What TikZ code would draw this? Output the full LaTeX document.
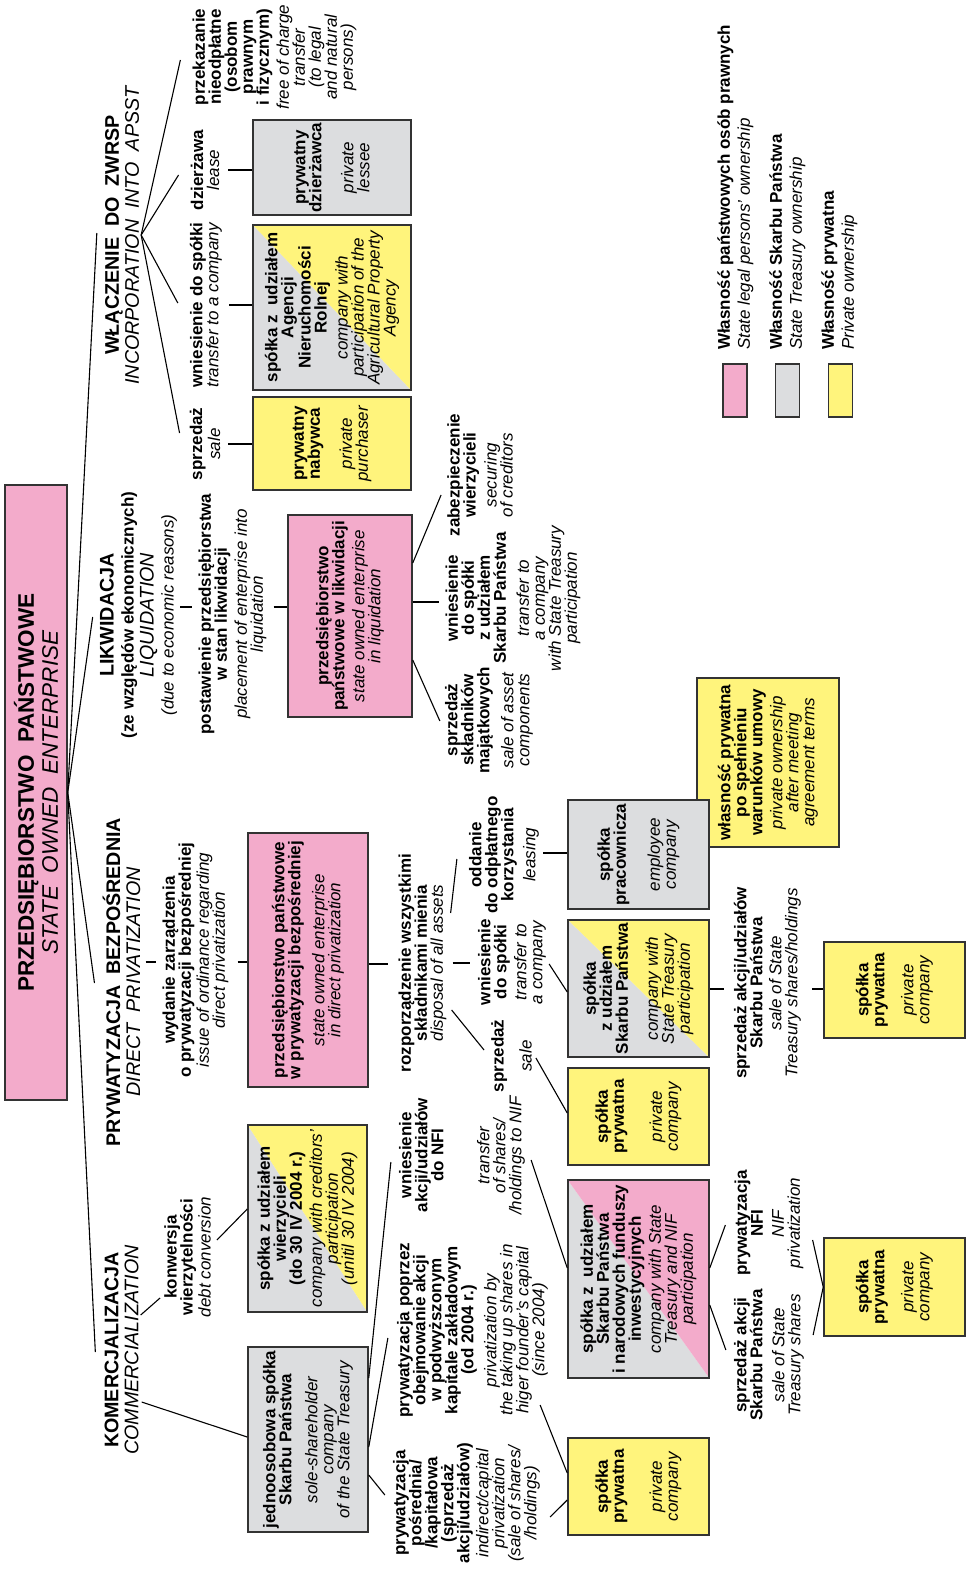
\documentclass[tikz,border=0pt]{standalone}
\usepackage{fontspec}
\setmainfont{Liberation Sans}
\usetikzlibrary{calc}
\pgfdeclarelayer{background}
\pgfsetlayers{background,main}
\definecolor{pinkc}{HTML}{F3ABCB}
\definecolor{yelc}{HTML}{FFF47C}
\definecolor{grayc}{HTML}{DCDDDF}
\definecolor{edgec}{HTML}{333333}
\newcommand\LB[1]{\textbf{#1}}
\newcommand\LI[1]{\textit{#1}}
\tikzset{
  txt/.style={rotate=90, align=center, inner sep=0pt, font=\fontsize{17}{16}\selectfont},
  head/.style={rotate=90, align=center, inner sep=0pt, font=\fontsize{19.7}{20}\selectfont},
  box/.style={rotate=90, align=center, inner sep=0pt, draw=edgec, line width=1.5pt, font=\fontsize{17}{16}\selectfont},
  legt/.style={rotate=90, align=left, anchor=west, inner sep=0pt, font=\fontsize{17}{20}\selectfont},
  conn/.style={line width=1.1pt, black},
}
\begin{document}
\begin{tikzpicture}[x=1pt,y=-1pt]
\begin{pgfonlayer}{background}
\fill[white] (0,0) rectangle (970,1569);
\end{pgfonlayer}
\useasboundingbox (0,0) rectangle (970,1569);

% title and headings
\node[box, fill=pinkc, minimum width=615pt, minimum height=62pt, font=\fontsize{22.5}{24}\selectfont] (title) at (36,792.5) {\LB{PRZEDSIĘBIORSTWO~~PAŃSTWOWE}\\\LI{STATE~~OWNED~~ENTERPRISE}};
\node[head] (hW) at (122,235) {\LB{WŁĄCZENIE~~DO~~ZWRSP}\\\LI{INCORPORATION~~INTO~~APSST}};
\node[head] (hL) at (138.5,615) {\LB{LIKWIDACJA}\\\LB{\fontsize{17}{20}\selectfont (ze względów ekonomicznych)}\\\LI{LIQUIDATION}\\\LI{\fontsize{17}{20}\selectfont (due to economic reasons)}};
\node[head] (hP) at (121.5,982) {\LB{PRYWATYZACJA~~BEZPOŚREDNIA}\\\LI{DIRECT~~PRIVATIZATION}};
\node[head] (hK) at (121.5,1350) {\LB{KOMERCJALIZACJA}\\\LI{COMMERCIALIZATION}};

% incorporation branch
\node[txt] (lW1) at (274.5,57) {\LB{przekazanie}\\\LB{nieodpłatne}\\\LB{(osobom}\\\LB{prawnym}\\\LB{i fizycznym)}\\[4pt]\LI{free of charge}\\\LI{transfer}\\\LI{(to legal}\\\LI{and natural}\\\LI{persons)}};
\node[txt] (lW2) at (205,170) {\LB{dzierżawa}\\\LI{lease}};
\node[txt] (lW3) at (206,305) {\LB{wniesienie do spółki}\\\LI{transfer to a company}};
\node[txt] (lW4) at (205,444) {\LB{sprzedaż}\\[2pt]\LI{sale}};
\node[box, fill=grayc, minimum width=95pt, minimum height=158pt] (bW2) at (332,167.5) {\LB{prywatny}\\\LB{dzierżawca}\\[16pt]\LI{private}\\\LI{lessee}};
\node[box, minimum width=165pt, minimum height=158pt] (bW3) at (332,307.5) {\LB{spółka z~~udziałem}\\\LB{Agencji}\\\LB{Nieruchomości}\\\LB{Rolnej}\\[5pt]\LI{company with}\\\LI{participation of the}\\\LI{Agricultural Property}\\\LI{Agency}};
\node[box, fill=yelc, minimum width=93pt, minimum height=158pt] (bW4) at (332,443.5) {\LB{prywatny}\\\LB{nabywca}\\[16pt]\LI{private}\\\LI{purchaser}};

% liquidation branch
\node[txt] (lL1) at (232.5,614) {\LB{postawienie przedsiębiorstwa}\\\LB{w stan likwidacji}\\[4pt]\LI{placement of enterprise into}\\\LI{liquidation}};
\node[box, fill=pinkc, minimum width=202pt, minimum height=124pt] (bL) at (350,616) {\LB{przedsiębiorstwo}\\\LB{państwowe w likwidacji}\\[4pt]\LI{state owned enterprise}\\\LI{in liquidation}};
\node[txt] (lL2) at (480,475) {\LB{zabezpieczenie}\\\LB{wierzycieli}\\[5pt]\LI{securing}\\\LI{of creditors}};
\node[txt] (lL3) at (513,598) {\LB{wniesienie}\\\LB{do spółki}\\\LB{z udziałem}\\\LB{Skarbu Państwa}\\[7pt]\LI{transfer to}\\\LI{a company}\\\LI{with State Treasury}\\\LI{participation}};
\node[txt] (lL4) at (489,720) {\LB{sprzedaż}\\\LB{składników}\\\LB{majątkowych}\\[8pt]\LI{sale of asset}\\\LI{components}};

% direct privatization branch
\node[txt] (lP1) at (195.5,960) {\LB{wydanie zarządzenia}\\\LB{o prywatyzacji bezpośredniej}\\[2pt]\LI{issue of ordinance regarding}\\\LI{direct privatization}};
\node[box, fill=pinkc, minimum width=254pt, minimum height=120pt] (bP) at (308,960) {\LB{przedsiębiorstwo państwowe}\\\LB{w prywatyzacji bezpośredniej}\\[8pt]\LI{state owned enterprise}\\\LI{in direct privatization}};
\node[txt] (lP2) at (422.5,963) {\LB{rozporządzenie wszystkimi}\\\LB{składnikami mienia}\\\LI{disposal of all assets}};
\node[txt] (lP3) at (504,855) {\LB{oddanie}\\\LB{do odpłatnego}\\\LB{korzystania}\\[6pt]\LI{leasing}};
\node[txt] (lP4) at (512,962) {\LB{wniesienie}\\\LB{do spółki}\\[4pt]\LI{transfer to}\\\LI{a company}};
\node[txt] (lP5) at (511.5,1056) {\LB{sprzedaż}\\[12pt]\LI{sale}};
\node[box, fill=yelc, minimum width=169pt, minimum height=142pt] (bP7) at (768,762.5) {\LB{własność prywatna}\\\LB{po spełnieniu}\\\LB{warunków umowy}\\[4pt]\LI{private ownership}\\\LI{after meeting}\\\LI{agreement terms}};
\node[box, fill=grayc, minimum width=109pt, minimum height=141pt] (bP4) at (638.5,854.5) {\LB{spółka}\\\LB{pracownicza}\\[18pt]\LI{employee}\\\LI{company}};
\node[box, minimum width=137pt, minimum height=141pt] (bP5) at (638.5,988.5) {\LB{spółka}\\\LB{z udziałem}\\\LB{Skarbu Państwa}\\[14pt]\LI{company with}\\\LI{State Treasury}\\\LI{participation}};
\node[box, fill=yelc, minimum width=97pt, minimum height=141pt] (bP6) at (638.5,1116.5) {\LB{spółka}\\\LB{prywatna}\\[22pt]\LI{private}\\\LI{company}};
\node[txt] (lP8) at (767.5,983) {\LB{sprzedaż akcji/udziałów}\\\LB{Skarbu Państwa}\\[3pt]\LI{sale of State}\\\LI{Treasury shares/holdings}};
\node[box, fill=yelc, minimum width=96pt, minimum height=141pt] (bP9) at (894.5,990) {\LB{spółka}\\\LB{prywatna}\\[13pt]\LI{private}\\\LI{company}};

% commercialization branch
\node[txt] (lK1) at (187.5,1257) {\LB{konwersja}\\\LB{wierzytelności}\\[2pt]\LI{debt conversion}};
\node[box, minimum width=187pt, minimum height=119pt] (bK1) at (307.5,1218.5) {\LB{spółka z udziałem}\\\LB{wierzycieli}\\\LB{(do 30 IV 2004 r.)}\\[4pt]\LI{company with creditors'}\\\LI{participation}\\\LI{(unitil 30 IV 2004)}};
\node[box, fill=grayc, minimum width=185pt, minimum height=120pt] (bK2) at (308,1439.5) {\LB{jednoosobowa spółka}\\\LB{Skarbu Państwa}\\[10pt]\LI{sole-shareholder}\\\LI{company}\\\LI{of the State Treasury}};
\node[txt] (lK2) at (462,1155) {\LB{wniesienie}\\\LB{akcji/udziałów}\\\LB{do NFI}\\[30pt]\LI{transfer}\\\LI{of shares/}\\\LI{/holdings to NIF}};
\node[txt] (lK3) at (472.5,1330) {\LB{prywatyzacja poprzez}\\\LB{obejmowanie akcji}\\\LB{w podwyższonym}\\\LB{kapitale zakładowym}\\\LB{(od 2004 r.)}\\[7pt]\LI{privatization by}\\\LI{the taking up shares in}\\\LI{higer founder's capital}\\\LI{(since 2004)}};
\node[txt] (lK4) at (466.5,1503) {\LB{prywatyzacja}\\\LB{pośrednia/}\\\LB{/kapitałowa}\\\LB{(sprzedaż}\\\LB{akcji/udziałów)}\\[3pt]\LI{indirect/capital}\\\LI{privatization}\\\LI{(sale of shares/}\\\LI{/holdings)}};
\node[box, minimum width=198pt, minimum height=141pt] (bK3) at (638.5,1279) {\LB{spółka z~~udziałem}\\\LB{Skarbu Państwa}\\\LB{i narodowych funduszy}\\\LB{inwestycyjnych}\\[4pt]\LI{company with State}\\\LI{Treasury and NIF}\\\LI{participation}};
\node[txt] (lK5) at (769,1223) {\LB{prywatyzacja}\\\LB{NFI}\\[5pt]\LI{NIF}\\\LI{privatization}};
\node[txt] (lK6) at (769,1355) {\LB{sprzedaż akcji}\\\LB{Skarbu Państwa}\\[6pt]\LI{sale of State}\\\LI{Treasury shares}};
\node[box, fill=yelc, minimum width=98pt, minimum height=141pt] (bK6) at (894.5,1287) {\LB{spółka}\\\LB{prywatna}\\[13pt]\LI{private}\\\LI{company}};
\node[box, fill=yelc, minimum width=97pt, minimum height=141pt] (bK5) at (638.5,1486.5) {\LB{spółka}\\\LB{prywatna}\\[22pt]\LI{private}\\\LI{company}};

% legend
\node[box, fill=pinkc, minimum width=53pt, minimum height=24pt] (lg1) at (735,390.5) {};
\node[box, fill=grayc, minimum width=53pt, minimum height=24pt] (lg2) at (787.5,390.5) {};
\node[box, fill=yelc, minimum width=53pt, minimum height=24pt] (lg3) at (840.5,390.5) {};
\node[legt] (lgt1) at (735.5,350) {\LB{Własność państwowych osób prawnych}\\\LI{State legal persons' ownership}};
\node[legt] (lgt2) at (787.5,350) {\LB{Własność Skarbu Państwa}\\\LI{State Treasury ownership}};
\node[legt] (lgt3) at (839.5,350) {\LB{Własność prywatna}\\\LI{Private ownership}};

% split fills
\begin{pgfonlayer}{background}
\fill[grayc] (bW3.north east) -- (bW3.north west) -- (bW3.south west) -- cycle;
\fill[yelc] (bW3.north east) -- (bW3.south east) -- (bW3.south west) -- cycle;
\fill[grayc] (bP5.north east) -- (bP5.north west) -- (bP5.south west) -- cycle;
\fill[yelc] (bP5.north east) -- (bP5.south east) -- (bP5.south west) -- cycle;
\fill[grayc] (bK1.north east) -- (bK1.north west) -- (bK1.south west) -- cycle;
\fill[yelc] (bK1.north east) -- (bK1.south east) -- (bK1.south west) -- cycle;
\fill[grayc] (bK3.north east) -- (bK3.north west) -- (bK3.south west) -- cycle;
\fill[pinkc] (bK3.north east) -- (bK3.south east) -- (bK3.south west) -- cycle;
\end{pgfonlayer}

% connectors: title to branches
\draw[conn] (title.south) -- ($(hW.north)+(-8,-2)$);
\draw[conn] (title.south) -- ($(hL.north)+(-7,2)$);
\draw[conn] (title.south) -- ($(hP.north)+(-8,1)$);
\draw[conn] (title.south) -- ($(hK.north)+(-9,2)$);

% incorporation
\coordinate (hubW) at ($(hW.south)+(2,0)$);
\draw[conn] (hubW) -- ($(lW1.north)+(-12,3)$);
\draw[conn] (hubW) -- ($(lW2.north)+(-12,5)$);
\draw[conn] (hubW) -- ($(lW3.north)+(-12,-2)$);
\draw[conn] (hubW) -- ($(lW4.north)+(-10,-11)$);
\draw[conn,shorten <=9pt] (lW2.south) -- (lW2.south -| bW2.north);
\draw[conn,shorten <=7pt] (lW3.south) -- (lW3.south -| bW3.north);
\draw[conn,shorten <=8pt] (lW4.south) -- (lW4.south -| bW4.north);

% liquidation
\draw[conn] ($(hL.south)+(3,-8)$) -- ($(lL1.north)+(-6,-7)$);
\draw[conn] ($(lL1.south)+(7,-7)$) -- ($(bL.north)+(0,-9)$);
\draw[conn] ($(bL.south)+(0,-53)$) -- ($(lL2.north)+(-6,20)$);
\draw[conn] ($(bL.south)+(0,-14)$) -- ($(lL3.north)+(-6,4)$);
\draw[conn] ($(bL.south)+(0,44)$) -- ($(lL4.north)+(-5,1)$);

% direct privatization
\draw[conn] ($(hP.south)+(5,-20)$) -- ($(lP1.north)+(-6,2)$);
\draw[conn] ($(lP1.south)+(9,2)$) -- ($(bP.north)+(0,2)$);
\draw[conn] ($(bP.south)+(0,4)$) -- ($(lP2.north)+(-10,1)$);
\draw[conn] ($(lP2.south)+(6,0)$) -- ($(lP4.north)+(-8,1)$);
\draw[conn] ($(lP2.south)+(4,-50)$) -- ($(lP3.north)+(-12,4)$);
\draw[conn] ($(lP2.south)+(5,47)$) -- ($(lP5.north)+(-7,-6)$);
\draw[conn] ($(lP3.south)+(4,-2)$) -- ($(bP4.north)+(0,-1.5)$);
\draw[conn] ($(lP4.south)+(3,2)$) -- ($(bP5.north)+(0,3.5)$);
\draw[conn] ($(lP5.south)+(4,2)$) -- ($(bP6.north)+(0,-3.5)$);
\draw[conn] ($(bP5.south)+(0,0.5)$) -- ($(lP8.north)+(-10,6)$);
\draw[conn] ($(lP8.south)+(11,6)$) -- ($(bP9.north)+(0,-1)$);

% commercialization
\draw[conn] ($(hK.south)+(2,-35)$) -- ($(lK1.north)+(-4,41)$);
\draw[conn] ($(lK1.south)+(6,-17)$) -- ($(bK1.north)+(0,-9.5)$);
\draw[conn] ($(hK.south)+(3,52)$) -- ($(bK2.north)+(0,-2.5)$);
\draw[conn] ($(bK2.south)+(0,-61.5)$) -- ($(lK2.north)+(-8,7)$);
\draw[conn] ($(bK2.south)+(0,7.5)$) -- ($(lK3.north)+(-9,8)$);
\draw[conn] ($(bK2.south)+(0,35.5)$) -- ($(lK4.north)+(-8,-8)$);
\draw[conn] ($(lK2.south)+(6,5)$) -- ($(bK3.north)+(0,-11)$);
\draw[conn] ($(lK3.south)+(-8,75)$) -- ($(bK5.north)+(0,-13.5)$);
\draw[conn] ($(lK4.south)+(10,14)$) -- ($(bK5.north)+(0,13.5)$);
\draw[conn] ($(bK3.south)+(0,-11)$) -- ($(lK5.north)+(-9,2)$);
\draw[conn] ($(bK3.south)+(0,26)$) -- ($(lK6.north)+(-8,-5)$);
\draw[conn] ($(lK5.south)+(9,17)$) -- (bK6.north);
\draw[conn] ($(lK6.south)+(9,-20)$) -- (bK6.north);
\end{tikzpicture}
\end{document}
